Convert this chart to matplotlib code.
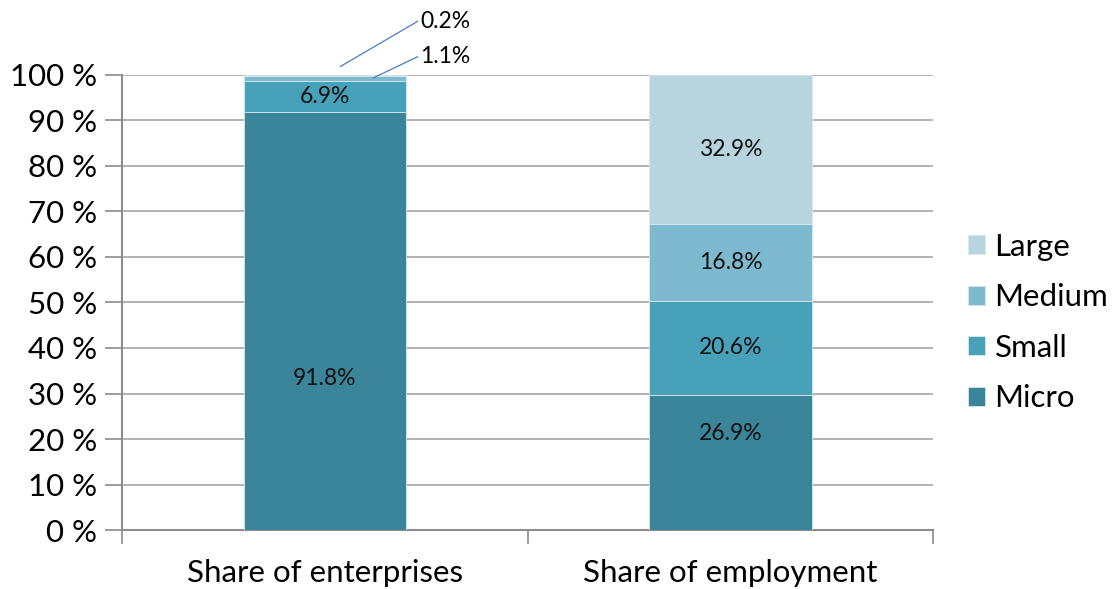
import matplotlib.pyplot as plt
import numpy as np

categories = ["Share of enterprises", "Share of employment"]
sizes = ["Micro", "Small", "Medium", "Large"]
# segment heights (%) as drawn in the picture
micro = [91.8, 29.7]
small = [6.9, 20.6]
medium = [1.1, 17.0]
large = [0.2, 32.7]
# printed labels
label_text = {
    "Micro": ["91.8%", "26.9%"],
    "Small": ["6.9%", "20.6%"],
    "Medium": ["1.1%", "16.8%"],
    "Large": ["0.2%", "32.9%"],
}
colors = {
    "Micro": "#3a8599",
    "Small": "#47a1b9",
    "Medium": "#7dbad0",
    "Large": "#b7d4df",
}

plt.rcParams["font.family"] = ["Lato", "DejaVu Sans"]

fig = plt.figure(figsize=(11.19, 5.89), dpi=100)
ax = fig.add_axes([0.109, 0.100, 0.725, 0.773])

x = np.arange(len(categories))
series = {"Micro": micro, "Small": small, "Medium": medium, "Large": large}
bottom = np.zeros(len(categories))
bars = {}
for name in sizes:
    vals = np.array(series[name])
    bars[name] = ax.bar(x, vals, 0.4, bottom=bottom, color=colors[name],
                        edgecolor="#d8e8ee", linewidth=0.6, label=name, zorder=3)
    bottom += vals

# in-bar labels (micro labels were nudged in the original)
seg_bottom = np.zeros(len(categories))
for name in sizes:
    vals = np.array(series[name])
    for i in range(len(categories)):
        if vals[i] < 3:
            continue
        yc = seg_bottom[i] + vals[i] / 2
        if name == "Micro":
            yc = 33.4 if i == 0 else 21.3
        ax.text(x[i], yc, label_text[name][i], ha="center", va="center",
                fontsize=16.5, color="#111111", zorder=4)
    seg_bottom += vals

# call-out labels for the thin enterprise segments
line_c = "#4a7cc4"
ax.annotate(label_text["Large"][0], xy=(0.038, 101.8), xytext=(0.236, 111.8),
            fontsize=16.5, va="center", ha="left", annotation_clip=False,
            arrowprops=dict(arrowstyle="-", color=line_c, lw=0.9,
                            shrinkA=0, shrinkB=0, relpos=(-0.05, 0.5)))
ax.annotate(label_text["Medium"][0], xy=(0.119, 99.3), xytext=(0.236, 104.0),
            fontsize=16.5, va="center", ha="left", annotation_clip=False,
            arrowprops=dict(arrowstyle="-", color=line_c, lw=0.9,
                            shrinkA=0, shrinkB=0, relpos=(-0.05, 0.5)))

ax.set_xlim(-0.5, 1.5)
ax.set_ylim(0, 100)
ax.set_yticks(np.arange(0, 101, 10))
ax.set_yticklabels([f"{v} %" for v in range(0, 101, 10)], fontsize=22.5)
ax.yaxis.grid(True, color="#a6a6a6", linewidth=1.2, zorder=0)
ax.set_axisbelow(True)

ax.set_xticks(x)
ax.set_xticklabels(categories, fontsize=22.5)
ax.tick_params(axis="x", length=0, pad=21)
ax.set_xticks([-0.5, 0.5, 1.5], minor=True)
ax.tick_params(axis="x", which="minor", length=10, width=1.2, color="#8c8c8c",
               direction="out")
ax.tick_params(axis="y", length=12, width=1.2, color="#8c8c8c", pad=6)

for s in ["top", "right"]:
    ax.spines[s].set_visible(False)
for s in ["left", "bottom"]:
    ax.spines[s].set_color("#8c8c8c")
    ax.spines[s].set_linewidth(1.5)

handles = [bars[n] for n in reversed(sizes)]
leg = ax.legend(handles, list(reversed(sizes)), loc="center left",
                bbox_to_anchor=(1.027, 0.456), frameon=False, fontsize=22.5,
                handlelength=0.56, handleheight=0.56, handletextpad=0.3,
                labelspacing=0.72, borderaxespad=0)

fig.savefig("out.png", dpi=100)
